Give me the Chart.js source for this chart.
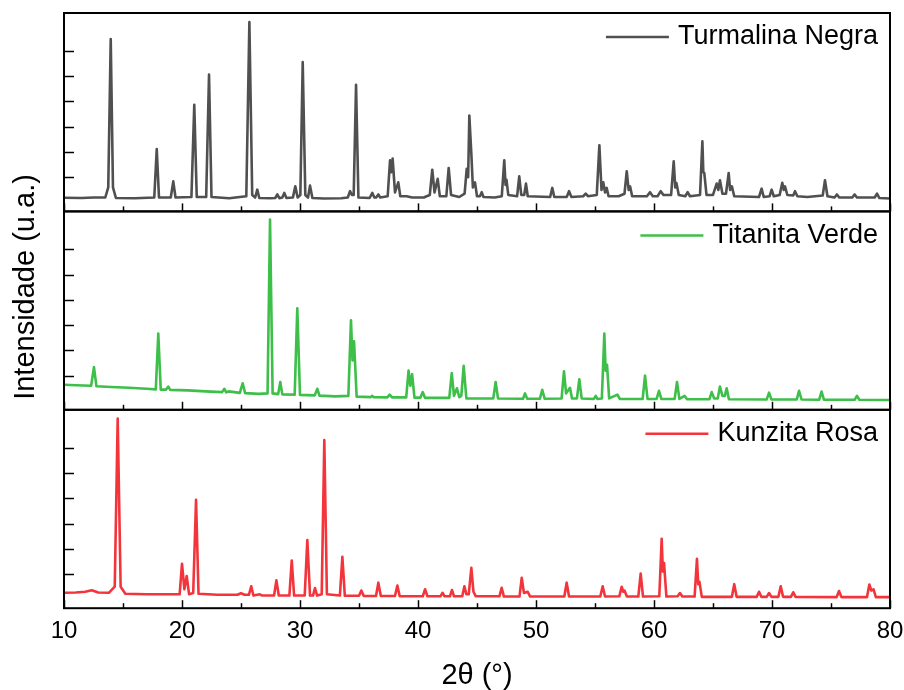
<!doctype html>
<html lang="en">
<head>
<meta charset="utf-8">
<title>DRX</title>
<script src="https://cdn.jsdelivr.net/npm/chart.js@4.4.1/dist/chart.umd.min.js"></script>
<style>
  html, body { margin: 0; padding: 0; background: #fff; }
</style>
</head>
<body>
<canvas id="drx" width="904" height="690"></canvas>
<script>
// 2theta (deg), intensity (a.u., panel units)
var turmalina = [
  [10,0.19],[11.5,0.18],[12.5,0.2],[13.5,0.2],[13.75,0.6],[13.96,6.47],[14.15,0.6],[14.4,0.18],
  [16,0.17],[17.65,0.2],[17.86,2.12],[18.05,0.2],[19.05,0.2],[19.26,0.84],[19.45,0.2],
  [20.8,0.22],[21.04,3.87],[21.25,0.22],[22.05,0.22],[22.29,5.06],[22.5,0.22],
  [24,0.17],[25.45,0.25],[25.71,7.14],[25.95,0.3],[26.2,0.2],[26.38,0.51],[26.55,0.18],
  [27.5,0.17],[27.9,0.18],[28.08,0.32],[28.25,0.17],[28.5,0.2],[28.67,0.38],[28.85,0.18],
  [29.4,0.2],[29.6,0.64],[29.8,0.2],[30.03,0.3],[30.23,5.56],[30.45,0.3],[30.68,0.2],[30.85,0.67],[31.05,0.18],
  [32,0.16],[33.5,0.17],[34.05,0.2],[34.24,0.45],[34.4,0.3],[34.55,0.3],[34.75,4.66],[34.95,0.2],
  [35.9,0.18],[36.13,0.38],[36.3,0.2],[36.45,0.2],[36.64,0.32],[36.8,0.2],
  [37.43,0.25],[37.63,1.67],[37.74,1.2],[37.85,1.74],[38.05,0.4],[38.33,0.8],[38.5,0.25],
  [39.04,0.25],[39.5,0.2],[40.5,0.2],[40.73,0.25],[41.0,0.3],[41.21,1.3],[41.4,0.4],[41.67,0.94],[41.85,0.25],
  [42.4,0.25],[42.6,1.37],[42.8,0.3],[43.5,0.22],[43.95,0.35],[44.13,1.34],[44.25,1.0],[44.35,3.44],[44.52,1.94],
  [44.65,0.6],[44.83,0.8],[45.0,0.25],[45.25,0.25],[45.4,0.41],[45.55,0.22],[46.5,0.2],
  [47.1,0.25],[47.31,1.67],[47.42,0.7],[47.5,0.9],[47.65,0.3],[48.4,0.25],[48.58,1.04],[48.75,0.3],
  [49.0,0.3],[49.15,0.75],[49.3,0.25],[51.2,0.22],[51.38,0.58],[51.55,0.22],[52.6,0.22],[52.8,0.45],[53.0,0.22],
  [54.0,0.25],[54.21,0.35],[54.4,0.25],[55.15,0.3],[55.37,2.27],[55.55,0.5],[55.7,0.8],[55.85,0.4],[55.99,0.58],[56.15,0.25],
  [57.0,0.25],[57.5,0.35],[57.69,1.24],[57.85,0.5],[57.97,0.64],[58.15,0.25],
  [59.4,0.25],[59.66,0.41],[59.9,0.25],[60.3,0.25],[60.57,0.45],[60.8,0.3],
  [61.45,0.3],[61.67,1.63],[61.8,0.6],[61.9,0.77],[62.1,0.3],[62.65,0.25],[62.85,0.41],[63.05,0.25],
  [63.9,0.3],[64.1,2.42],[64.18,1.2],[64.26,1.17],[64.45,0.3],
  [65.0,0.3],[65.31,0.75],[65.45,0.5],[65.59,0.88],[65.8,0.35],[66.1,0.35],[66.33,1.17],[66.45,0.5],[66.6,0.64],[66.8,0.25],
  [68.9,0.22],[69.12,0.55],[69.3,0.22],[69.8,0.25],[69.97,0.51],[70.15,0.25],
  [70.65,0.3],[70.87,0.78],[71.0,0.5],[71.1,0.64],[71.3,0.3],[71.8,0.28],[71.95,0.45],[72.15,0.25],
  [73,0.22],[74.3,0.28],[74.49,0.88],[74.7,0.25],[75.3,0.2],[75.5,0.32],[75.7,0.2],
  [76.8,0.2],[77.0,0.32],[77.2,0.2],[78.7,0.2],[78.9,0.35],[79.1,0.18],[80,0.16]
];

var titanita = [
  [10,0.64],[11,0.62],[12.3,0.6],[12.54,1.34],[12.75,0.58],[14,0.55],[15.5,0.52],[17,0.48],
  [17.78,0.46],[17.99,2.67],[18.2,0.45],[18.65,0.45],[18.84,0.57],[19.0,0.44],
  [20.5,0.42],[22,0.38],[23.4,0.35],[23.59,0.48],[23.75,0.34],[23.95,0.38],[24.9,0.32],[25.14,0.7],[25.35,0.31],
  [26.5,0.28],[27.25,0.3],[27.46,7.18],[27.68,0.3],[28.15,0.27],[28.33,0.75],[28.5,0.26],
  [29.55,0.25],[29.77,3.67],[30.0,0.24],[31.25,0.22],[31.47,0.48],[31.65,0.21],
  [33,0.18],[34.1,0.2],[34.32,3.19],[34.45,1.6],[34.58,2.36],[34.8,0.17],
  [36,0.15],[36.1,0.2],[36.25,0.15],[37.4,0.14],[37.6,0.25],[37.8,0.14],
  [39.0,0.14],[39.2,1.2],[39.35,0.6],[39.5,1.06],[39.7,0.13],[40.2,0.13],[40.4,0.35],[40.6,0.12],
  [42.65,0.12],[42.86,1.1],[43.05,0.2],[43.3,0.5],[43.5,0.15],[43.67,0.2],[43.87,1.39],[44.1,0.1],
  [46.38,0.1],[46.58,0.75],[46.78,0.1],[48.9,0.09],[49.07,0.3],[49.25,0.09],[50.33,0.09],[50.53,0.44],[50.73,0.09],
  [52.17,0.1],[52.37,1.17],[52.55,0.3],[52.88,0.52],[53.05,0.1],[53.47,0.1],[53.67,0.86],[53.87,0.1],
  [54.9,0.08],[55.06,0.2],[55.2,0.08],[55.58,0.1],[55.79,2.67],[55.9,1.2],[56.02,1.43],[56.2,0.1],[56.9,0.25],[57.1,0.08],
  [59.04,0.08],[59.24,1.0],[59.45,0.08],[60.22,0.08],[60.42,0.4],[60.62,0.08],
  [61.75,0.08],[61.95,0.75],[62.15,0.08],[62.6,0.2],[62.8,0.07],
  [64.7,0.07],[64.89,0.35],[65.1,0.1],[65.4,0.1],[65.59,0.57],[65.8,0.2],[66.0,0.2],[66.16,0.5],[66.35,0.07],
  [69.55,0.06],[69.75,0.33],[69.95,0.06],[72.1,0.06],[72.29,0.4],[72.5,0.06],[74.0,0.05],[74.2,0.37],[74.4,0.05],
  [77.0,0.05],[77.2,0.2],[77.4,0.05],[80,0.04]
];

var kunzita = [
  [10,0.26],[11,0.27],[11.8,0.3],[12.35,0.36],[12.9,0.27],[13.8,0.26],[14.3,0.5],[14.55,7.15],[14.8,0.5],[15.2,0.22],
  [17,0.2],[19.8,0.2],[20.0,1.41],[20.2,0.4],[20.4,0.92],[20.6,0.2],[20.95,0.25],[21.19,3.94],[21.4,0.22],
  [23,0.18],[24.7,0.18],[25.0,0.24],[25.3,0.18],[25.67,0.18],[25.87,0.52],[26.05,0.15],[26.6,0.2],[26.8,0.15],
  [27.8,0.15],[28.0,0.75],[28.2,0.15],[29.1,0.15],[29.3,1.54],[29.5,0.15],[30.4,0.15],[30.62,2.35],[30.85,0.15],
  [31.1,0.15],[31.27,0.45],[31.45,0.15],[31.84,0.2],[32.06,6.3],[32.28,0.2],[33.38,0.15],[33.59,1.68],[33.8,0.14],
  [35.0,0.14],[35.2,0.35],[35.4,0.13],[36.44,0.13],[36.64,0.66],[36.85,0.13],[38.05,0.13],[38.25,0.55],[38.45,0.12],
  [40.4,0.12],[40.6,0.4],[40.8,0.12],[41.9,0.12],[42.09,0.26],[42.25,0.12],[42.7,0.12],[42.88,0.37],[43.05,0.12],
  [43.75,0.12],[43.93,0.52],[44.1,0.2],[44.3,0.2],[44.52,1.25],[44.7,0.3],[44.9,0.12],
  [46.9,0.12],[47.09,0.46],[47.28,0.11],[48.6,0.11],[48.79,0.85],[48.98,0.25],[49.3,0.3],[49.5,0.11],
  [52.4,0.11],[52.6,0.66],[52.8,0.11],[55.45,0.11],[55.65,0.52],[55.85,0.11],
  [57.06,0.12],[57.26,0.5],[57.4,0.3],[57.5,0.35],[57.7,0.11],
  [58.67,0.11],[58.87,1.02],[59.07,0.11],[60.45,0.12],[60.65,2.4],[60.75,1.1],[60.85,1.44],[61.05,0.11],
  [62.0,0.12],[62.2,0.25],[62.4,0.11],[63.44,0.11],[63.64,1.6],[63.75,0.6],[63.85,0.7],[64.05,0.1],
  [66.6,0.1],[66.8,0.6],[67.0,0.1],[68.7,0.1],[68.9,0.3],[69.1,0.1],[69.55,0.1],[69.75,0.25],[69.95,0.1],
  [70.54,0.1],[70.74,0.52],[70.94,0.1],[71.6,0.1],[71.8,0.28],[72.0,0.1],[75.48,0.09],[75.68,0.33],[75.88,0.09],
  [78.05,0.09],[78.25,0.59],[78.42,0.35],[78.6,0.4],[78.8,0.09],[80,0.09]
];

var labels = ["Turmalina Negra", "Titanita Verde", "Kunzita Rosa"];
var colors = ["#505050", "#3dbf49", "#f3353b"];
var xTicks = [10, 20, 30, 40, 50, 60, 70, 80];

var FONT = "'Liberation Sans', Arial, sans-serif";
var panelIds = ["yT", "yV", "yK"];

function toPoints(arr) {
  return arr.map(function (p) { return { x: p[0], y: p[1] }; });
}

// frames, inward ticks, legends inside each panel, and the shared y title
var panelDecor = {
  id: "panelDecor",
  afterDatasetsDraw: function (chart) {
    var ctx = chart.ctx, a = chart.chartArea, xs = chart.scales.x;
    var majors = xs.ticks.map(function (t) { return t.value; });
    ctx.save();
    ctx.strokeStyle = "#000";
    panelIds.forEach(function (id) {
      var s = chart.scales[id];
      ctx.lineWidth = 1.5;
      s.ticks.forEach(function (t) {
        if (!Number.isInteger(t.value) || t.value < 0) return;
        var py = Math.round(s.getPixelForValue(t.value)) + 0.5;
        ctx.beginPath(); ctx.moveTo(a.left, py); ctx.lineTo(a.left + 10, py); ctx.stroke();
      });
      majors.forEach(function (v, k) {
        var px = Math.round(xs.getPixelForValue(v)) + 0.5;
        ctx.beginPath(); ctx.moveTo(px, s.bottom); ctx.lineTo(px, s.bottom - 8); ctx.stroke();
        if (k < majors.length - 1) {
          var pm = Math.round(xs.getPixelForValue((v + majors[k + 1]) / 2)) + 0.5;
          ctx.beginPath(); ctx.moveTo(pm, s.bottom); ctx.lineTo(pm, s.bottom - 5); ctx.stroke();
        }
      });
      ctx.lineWidth = 2;
      ctx.strokeRect(a.left, s.top, a.right - a.left, s.bottom - s.top);
    });

    ctx.font = "27px " + FONT;
    ctx.textAlign = "right";
    ctx.textBaseline = "middle";
    chart.data.datasets.forEach(function (ds) {
      var s = chart.scales[ds.yAxisID];
      var tx = a.right - 12, ty = s.top + 24;
      var w = ctx.measureText(ds.label).width;
      ctx.fillStyle = "#000";
      ctx.fillText(ds.label, tx, ty);
      ctx.strokeStyle = ds.borderColor;
      ctx.lineWidth = 2.5;
      ctx.beginPath(); ctx.moveTo(tx - w - 72, ty); ctx.lineTo(tx - w - 9, ty); ctx.stroke();
    });

    ctx.translate(26, 287);
    ctx.rotate(-Math.PI / 2);
    ctx.font = "29px " + FONT;
    ctx.textAlign = "center";
    ctx.fillStyle = "#000";
    ctx.fillText("Intensidade (u.a.)", 0, 0);
    ctx.restore();
  }
};

function panelAxis() {
  return {
    type: "linear", position: "left", stack: "drx", stackWeight: 1,
    min: -0.35, max: 7.5,
    ticks: { display: false, stepSize: 1 },
    grid: { display: false, drawTicks: false },
    border: { display: false }
  };
}

var ctx = document.getElementById("drx").getContext("2d");
var chart = new Chart(ctx, {
  type: "line",
  data: {
    datasets: [
      { label: labels[0], data: toPoints(turmalina), yAxisID: "yT", borderColor: colors[0] },
      { label: labels[1], data: toPoints(titanita), yAxisID: "yV", borderColor: colors[1] },
      { label: labels[2], data: toPoints(kunzita), yAxisID: "yK", borderColor: colors[2] }
    ]
  },
  options: {
    responsive: false,
    animation: false,
    parsing: false,
    elements: { point: { radius: 0 }, line: { borderWidth: 2.6, tension: 0, borderJoinStyle: "round" } },
    layout: { padding: { left: 64, right: 14, top: 13, bottom: 0 } },
    plugins: { legend: { display: false }, tooltip: { enabled: false } },
    scales: {
      x: {
        type: "linear", position: "bottom", min: 10, max: 80,
        afterBuildTicks: function (axis) { axis.ticks = xTicks.map(function (v) { return { value: v }; }); },
        afterFit: function (axis) { axis.paddingLeft = 0; axis.paddingRight = 0; },
        ticks: { color: "#000", font: { family: FONT, size: 24 }, padding: 9, maxRotation: 0 },
        grid: { display: false, drawTicks: false },
        border: { display: false },
        title: { display: true, text: "2θ (°)", color: "#000", font: { family: FONT, size: 29, lineHeight: 1 }, padding: { top: 6, bottom: 0 } }
      },
      yK: panelAxis(),
      yV: panelAxis(),
      yT: panelAxis()
    }
  },
  plugins: [panelDecor]
});
</script>
</body>
</html>
